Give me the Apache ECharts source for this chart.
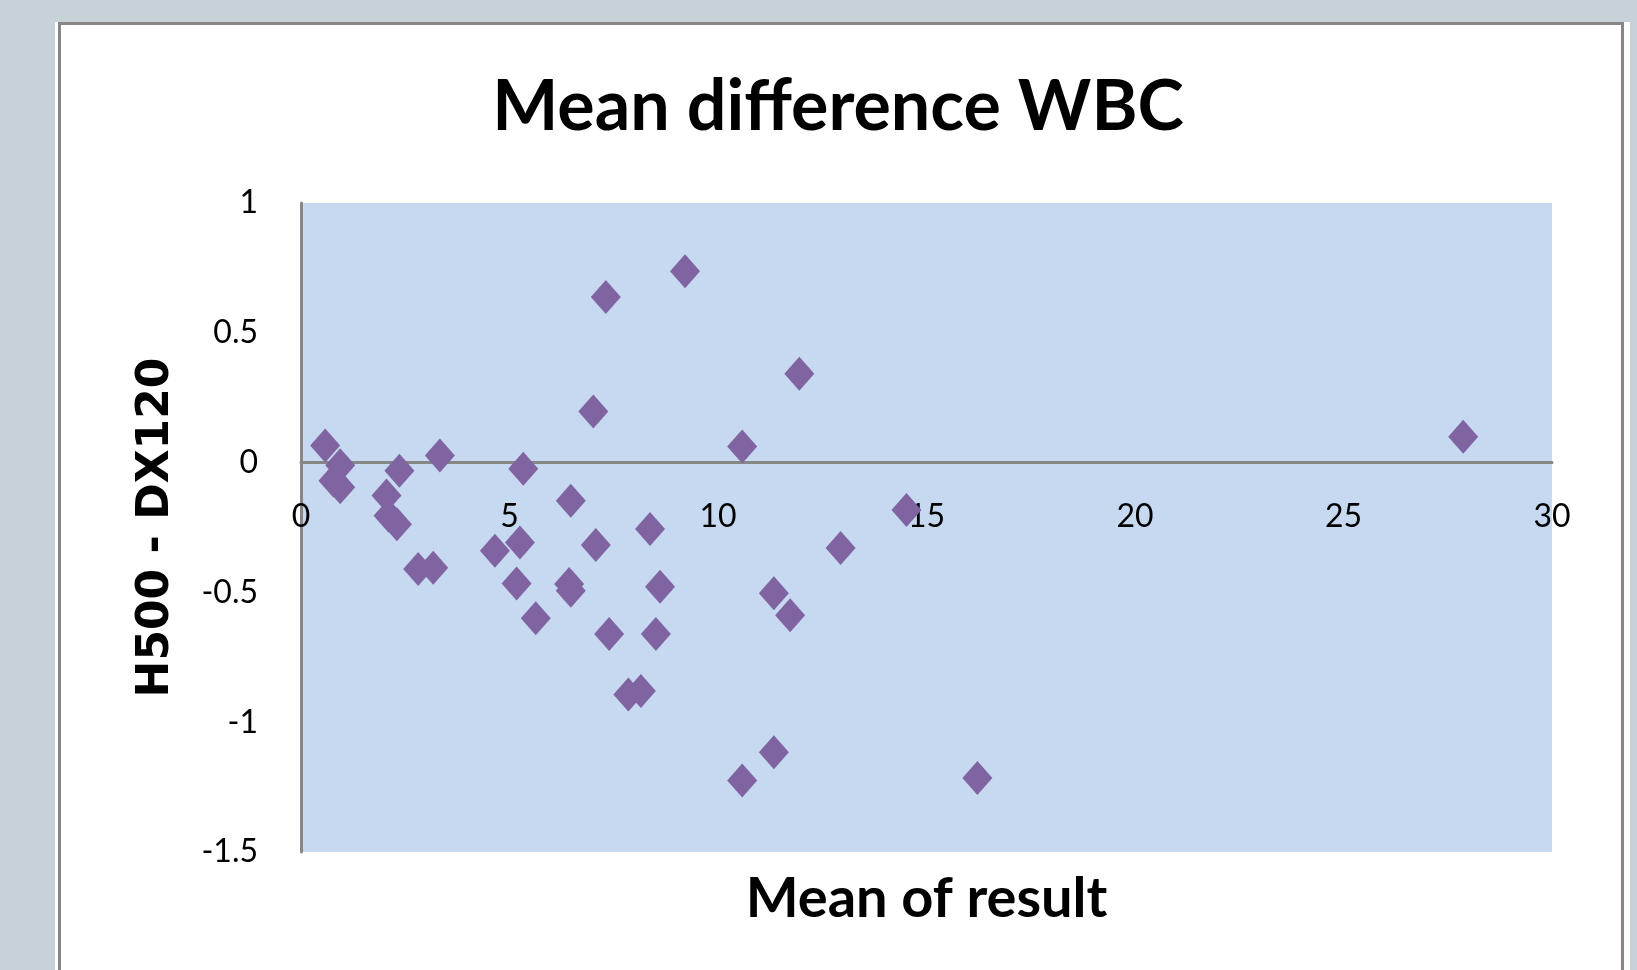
<!DOCTYPE html>
<html>
<head>
<meta charset="utf-8">
<title>Mean difference WBC</title>
<script src="https://cdn.jsdelivr.net/npm/echarts@6/dist/echarts.min.js"></script>
<style>
  html, body { margin: 0; padding: 0; background: #c6d1d8; }
  #main { width: 1637px; height: 970px; }
</style>
</head>
<body>
<div id="main"></div>
<script>
// mean of the two results (x) and H500 - DX120 difference (y)
var meanResult = [
    0.58, 0.94, 0.78, 0.94, 2.36, 2.05, 2.10, 2.30, 3.33, 2.81,
    3.17, 5.33, 6.47, 8.37, 5.25, 4.65, 7.07, 5.17, 6.43, 6.47,
    8.61, 5.63, 7.39, 8.51, 7.85, 8.15, 9.21, 7.31, 7.01, 10.58,
    11.95, 14.52, 12.94, 11.34, 11.73, 11.34, 10.58, 16.22, 27.87
];
var difference = [
    0.066, -0.01, -0.07, -0.095, -0.031, -0.127, -0.205, -0.237, 0.027, -0.41,
    -0.405, -0.024, -0.147, -0.256, -0.308, -0.34, -0.317, -0.466, -0.468, -0.494,
    -0.478, -0.60, -0.66, -0.66, -0.893, -0.88, 0.737, 0.638, 0.197, 0.062,
    0.342, -0.183, -0.329, -0.503, -0.588, -1.116, -1.225, -1.215, 0.10
];
var xTicks = [0, 5, 10, 15, 20, 25, 30];
var yTicks = [-1.5, -1, -0.5, 0, 0.5, 1];

var points = [];
for (var i = 0; i < meanResult.length; i++) {
    points.push([meanResult[i], difference[i]]);
}

var gridTop = 203, gridBottom = 118;
var gridHeight = 970 - gridTop - gridBottom;
var yMin = yTicks[0], yMax = yTicks[yTicks.length - 1];
// x axis (line + labels) sits on y = 0 like the excel chart
var xAxisOffset = -gridHeight * (0 - yMin) / (yMax - yMin);

var myChart = echarts.init(document.getElementById('main'));
var option = {
    backgroundColor: '#c6d1d8',
    animation: false,
    title: {
        text: 'Mean difference WBC',
        left: 838,
        top: 72,
        padding: 0,
        textAlign: 'center',
        textStyle: {
            fontFamily: 'Lato',
            fontWeight: 'bold',
            fontSize: 70,
            color: '#000'
        }
    },
    graphic: [{
        type: 'rect',
        z: -10,
        shape: { x: 55, y: 22, width: 1575, height: 960 },
        style: { fill: '#ffffff' }
    }, {
        type: 'rect',
        z: -9,
        shape: { x: 59.5, y: 23.5, width: 1563, height: 960 },
        style: { fill: '#ffffff', stroke: '#878787', lineWidth: 3 }
    }],
    grid: {
        left: 301,
        right: 85,
        top: gridTop,
        bottom: gridBottom,
        containLabel: false,
        outerBoundsMode: 'none',
        show: true,
        backgroundColor: '#c6d9f0',
        borderWidth: 0
    },
    xAxis: {
        type: 'value',
        min: xTicks[0],
        max: xTicks[xTicks.length - 1],
        interval: 5,
        position: 'bottom',
        offset: xAxisOffset,
        name: 'Mean of result',
        nameLocation: 'middle',
        nameGap: 408,
        nameTextStyle: {
            fontFamily: 'Lato',
            fontWeight: 'bold',
            fontSize: 56,
            color: '#000'
        },
        axisLine: {
            onZero: false,
            lineStyle: { color: '#878787', width: 3 }
        },
        axisTick: { show: false },
        splitLine: { show: false },
        axisLabel: {
            fontFamily: 'Lato',
            fontSize: 32,
            color: '#000',
            margin: 38
        }
    },
    yAxis: {
        type: 'value',
        min: yMin,
        max: yMax,
        interval: 0.5,
        name: 'H500 - DX120',
        nameLocation: 'middle',
        nameGap: 122,
        nameTextStyle: {
            fontFamily: 'DejaVu Sans',
            fontWeight: 'bold',
            fontSize: 44,
            color: '#000'
        },
        axisLine: {
            show: true,
            onZero: false,
            lineStyle: { color: '#878787', width: 3 }
        },
        axisTick: { show: false },
        splitLine: { show: false },
        axisLabel: {
            fontFamily: 'Lato',
            fontSize: 32,
            color: '#000',
            margin: 43
        }
    },
    series: [{
        type: 'scatter',
        symbol: 'diamond',
        symbolSize: [30, 34],
        itemStyle: { color: '#8064a2', opacity: 1 },
        data: points
    }]
};
myChart.setOption(option);
</script>
</body>
</html>
